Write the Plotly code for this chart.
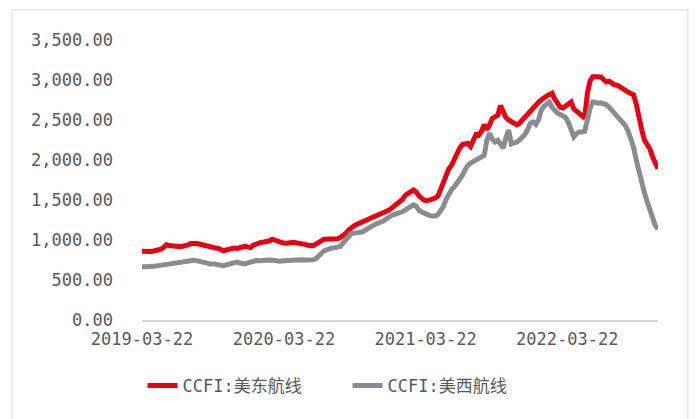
import pandas as pd
import plotly.graph_objects as go

# weekly CCFI index values (first week 2019-03-22)
dates = pd.date_range("2019-03-22", periods=191, freq="7D")

us_east = [
    860, 855, 858, 855, 860, 865, 870, 885, 910, 940,
    930, 925, 918, 920, 915, 922, 925, 940, 955, 960,
    955, 950, 940, 932, 918, 905, 908, 900, 898, 875,
    865, 875, 885, 895, 900, 895, 898, 912, 920, 908,
    905, 935, 950, 960, 972, 975, 980, 990, 1010, 995,
    985, 972, 962, 960, 968, 975, 970, 962, 960, 955,
    945, 935, 925, 930, 945, 960, 990, 1010, 1008, 1010,
    1005, 1012, 1015, 1030, 1050, 1080, 1120, 1155, 1175, 1195,
    1210, 1225, 1235, 1245, 1260, 1275, 1290, 1305, 1335, 1345,
    1355, 1375, 1400, 1425, 1465, 1485, 1510, 1560, 1590, 1605,
    1625, 1600, 1550, 1520, 1495, 1490, 1500, 1510, 1525, 1550,
    1640, 1740, 1830, 1890, 1935, 2010, 2085, 2150, 2195, 2205,
    2210, 2170, 2230, 2320, 2310, 2360, 2440, 2380, 2440, 2520,
    2540, 2560, 2680, 2600, 2530, 2500, 2475, 2460, 2440, 2460,
    2500, 2530, 2560, 2610, 2650, 2700, 2720, 2750, 2785, 2800,
    2820, 2835, 2760, 2700, 2660, 2650, 2680, 2700, 2725, 2640,
    2610, 2600, 2560, 2525, 2835, 2990, 3040, 3045, 3040, 3035,
    3000, 2975, 2985, 2960, 2940, 2935, 2910, 2895, 2870, 2850,
    2830, 2815, 2700, 2520, 2380, 2250, 2190, 2140, 2040, 1960,
    1890,
]

us_west = [
    665, 660, 665, 670, 668, 675, 680, 685, 692, 698,
    705, 712, 715, 712, 720, 728, 735, 745, 750, 748,
    742, 738, 730, 722, 712, 700, 705, 700, 690, 682,
    678, 690, 700, 712, 720, 725, 712, 705, 700, 715,
    728, 738, 742, 740, 745, 750, 752, 750, 748, 740,
    730, 735, 740, 742, 748, 752, 755, 760, 758, 752,
    750, 748, 750, 752, 765, 790, 830, 865, 880, 895,
    900, 905, 912, 918, 960, 1010, 1040, 1080, 1090, 1092,
    1095, 1100, 1120, 1145, 1170, 1190, 1200, 1210, 1222, 1240,
    1265, 1290, 1310, 1320, 1330, 1340, 1355, 1378, 1400, 1420,
    1440, 1420, 1370, 1350, 1330, 1312, 1305, 1300, 1300, 1320,
    1360, 1420, 1510, 1580, 1630, 1665, 1710, 1760, 1810, 1880,
    1935, 1960, 1985, 2000, 2020, 2040, 2060, 2250, 2335, 2260,
    2225, 2245, 2200, 2150, 2280, 2375, 2200, 2205, 2225, 2250,
    2280, 2320, 2380, 2460, 2475, 2445, 2500, 2620, 2670, 2700,
    2725, 2660, 2620, 2585, 2570, 2550, 2530, 2470, 2380, 2290,
    2330, 2350, 2350, 2360, 2500, 2650, 2725, 2715, 2710, 2715,
    2705, 2690, 2660, 2625, 2590, 2540, 2510, 2470, 2430, 2360,
    2260, 2160, 2000, 1850, 1710, 1590, 1480, 1370, 1260, 1180,
    1140,
]

y_ticks = [0, 500, 1000, 1500, 2000, 2500, 3000, 3500]
x_ticks = ["2019-03-22", "2020-03-22", "2021-03-22", "2022-03-22"]

font_main = "DejaVu Sans Mono, Noto Sans CJK SC"
grey_text = "#595959"

fig = go.Figure()
fig.add_trace(go.Scatter(x=dates, y=us_east, name="CCFI:美东航线", mode="lines",
                         line=dict(color="#E60012", width=5)))
fig.add_trace(go.Scatter(x=dates, y=us_west, name="CCFI:美西航线", mode="lines",
                         line=dict(color="#8A8D90", width=5)))

# page body adds an 8px offset, so margins are shifted to compensate
fig.update_layout(
    width=697, height=419,
    margin=dict(l=134, r=47, t=32, b=107),
    paper_bgcolor="white", plot_bgcolor="white",
    font=dict(family=font_main, size=17, color=grey_text),
    showlegend=True,
    legend=dict(orientation="h", xref="container", yref="container",
                x=0.193, xanchor="left", y=0.098, yanchor="middle",
                font=dict(family=font_main, size=17, color=grey_text),
                entrywidth=160, entrywidthmode="pixels",
                traceorder="normal"),
    shapes=[dict(type="rect", xref="paper", yref="paper",
                 x0=-0.252, x1=1.058, y0=-0.6, y1=1.107,
                 line=dict(color="#d9d9d9", width=1), layer="below")],
)
fig.update_xaxes(range=[dates[0], dates[-1]], tickvals=x_ticks, ticktext=x_ticks,
                 showgrid=False, showline=True, linecolor="#d9d9d9", linewidth=1.5,
                 ticks="", zeroline=False, automargin=False, ticklabelstandoff=3,
                 tickfont=dict(family=font_main, size=17, color=grey_text))
fig.update_yaxes(range=[0, 3500], tickvals=y_ticks, tickformat=",.2f",
                 showgrid=False, showline=False, zeroline=False, ticks="",
                 automargin=False, ticklabelstandoff=28,
                 tickfont=dict(family=font_main, size=17, color=grey_text))

fig.write_html("out.html")
